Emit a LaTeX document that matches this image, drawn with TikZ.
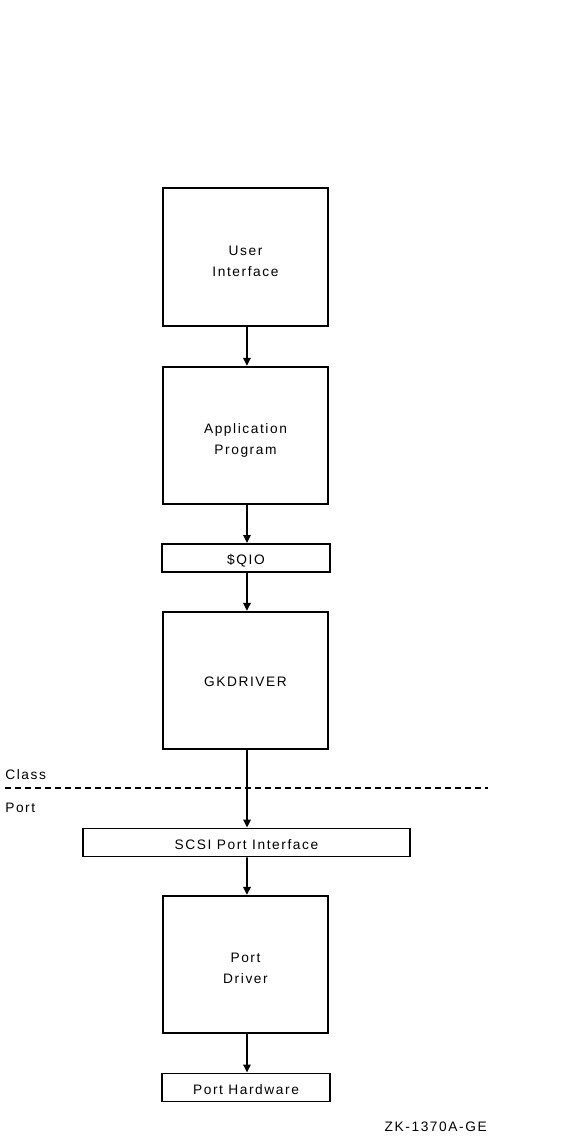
\documentclass[tikz,border=0pt]{standalone}
\usepackage{fontspec}
\setmainfont[LetterSpace=11.5]{Liberation Sans}
\usetikzlibrary{arrows.meta}

\begin{document}
\begin{tikzpicture}[x=0.75pt, y=-0.75pt,
		box/.style={draw=black, line width=1.4pt, minimum width=123.75pt, minimum height=103pt, align=center, inner sep=0pt, text height=28.5pt, text depth=0pt},
		flatbox/.style={draw=black, line width=1.4pt, minimum height=21pt, inner sep=0pt, text height=10pt, text depth=0pt},
		flow/.style={black, line width=1.4pt, -{Triangle[width=5.5pt, length=6pt]}},
		every node/.style={font=\fontsize{10.3}{15.5}\selectfont}]
		\useasboundingbox (0, 0) rectangle (586, 1139);
		% boxes, top to bottom
		\node[box] (user) at (245.5, 257) {User\\Interface};
		\node[box] (app) at (245.5, 435.5) {Application\\Program};
		\node[flatbox, minimum width=126pt] (qio) at (246, 558) {\$QIO};
		\node[box, text height=9.5pt] (gk) at (245.5, 680.5) {GKDRIVER};
		\node[flatbox, minimum width=245pt] (scsi) at (246.5, 842.5) {SCSI Port Interface};
		\node[box] (portdrv) at (245.5, 964.5) {Port\\Driver};
		\node[flatbox, minimum width=126pt] (porthw) at (246, 1087.5) {Port Hardware};
		% class / port split
		\coordinate (splitL) at (5, 788);
		\coordinate (splitR) at (488, 788);
		\draw[black, line width=1.1pt, dash pattern=on 4.5pt off 3pt] (splitL) -- (splitR);
		\node[anchor=west, inner sep=0pt] (class) at (5, 775) {Class};
		\node[anchor=west, inner sep=0pt] (port) at (5, 808) {Port};
		% arrows
		\draw[flow] ([xshift=1.1pt]user.south) -- ([xshift=1.1pt]app.north);
		\draw[flow] ([xshift=1.1pt]app.south) -- ([xshift=0.75pt]qio.north);
		\draw[flow] ([xshift=0.75pt]qio.south) -- ([xshift=1.1pt]gk.north);
		\draw[flow] ([xshift=1.1pt]gk.south) -- ([xshift=0.4pt]scsi.north);
		\draw[flow] ([xshift=0.4pt]scsi.south) -- ([xshift=1.1pt]portdrv.north);
		\draw[flow] ([xshift=1.1pt]portdrv.south) -- ([xshift=0.75pt]porthw.north);
		\node[anchor=east, inner sep=0pt] (fig) at (487, 1127) {ZK-1370A-GE};
\end{tikzpicture}
\end{document}
